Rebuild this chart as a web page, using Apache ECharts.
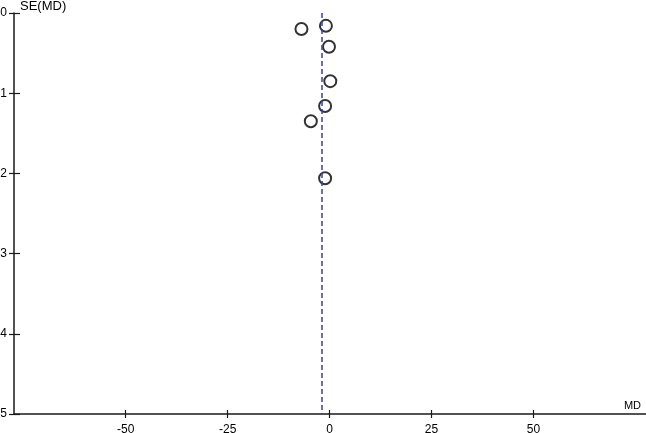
<!DOCTYPE html>
<html>
<head>
<meta charset="utf-8">
<script src="https://cdn.jsdelivr.net/npm/echarts@6/dist/echarts.min.js"></script>
<style>
  html, body { margin: 0; padding: 0; background: #fff; }
  #chart { width: 646px; height: 433px; }
</style>
</head>
<body>
<div id="chart"></div>
<script>
// study estimates: mean difference and its standard error
const md = [-6.9, -0.9, -0.15, 0.17, -1.1, -4.6, -1.1];
const se = [0.20, 0.16, 0.42, 0.85, 1.16, 1.35, 2.06];
const pooledMd = -2;
const xTicks = [-50, -25, 0, 25, 50];
const xRange = [-77.4, 77.6];
const yRange = [0, 5];

(function () {
  const font = 'Liberation Sans, Arial, sans-serif';
  const ink = '#1a1a1a';
  const gridBox = { left: 14, right: 0, top: 13, bottom: 19 };
  const plotW = 646 - gridBox.left - gridBox.right;
  const plotH = 433 - gridBox.top - gridBox.bottom;
  const chart = echarts.init(document.getElementById('chart'), null, { renderer: 'canvas' });

  const nameStyle = (size, extra) => Object.assign({ color: '#000', fontFamily: font, fontSize: size }, extra);

  // main axes carry line, labels and the outer half of each tick;
  // twin axes are pushed onto the same line and draw the inner half
  const xMain = {
    type: 'value',
    position: 'bottom',
    min: xRange[0],
    max: xRange[1],
    splitLine: { show: false },
    axisLine: { onZero: false, lineStyle: { color: ink, width: 1.5 } },
    axisTick: { length: 4, customValues: xTicks, lineStyle: { color: ink, width: 1.2 } },
    axisLabel: { customValues: xTicks, margin: 10, color: '#000', fontFamily: font, fontSize: 12 },
    name: 'MD',
    nameLocation: 'end',
    nameGap: -5,
    nameTextStyle: nameStyle(11, { align: 'right', verticalAlign: 'bottom', padding: [0, 0, 3, 0] }),
  };
  const xTwin = {
    type: 'value',
    position: 'top',
    offset: -plotH,
    min: xRange[0],
    max: xRange[1],
    splitLine: { show: false },
    axisLine: { show: false, onZero: false },
    axisTick: { length: 4, customValues: xTicks, lineStyle: { color: ink, width: 1.2 } },
    axisLabel: { show: false },
  };
  const yMain = {
    type: 'value',
    position: 'left',
    inverse: true,
    min: yRange[0],
    max: yRange[1],
    interval: 1,
    splitLine: { show: false },
    axisLine: { onZero: false, lineStyle: { color: ink, width: 1.5 } },
    axisTick: { length: 5, lineStyle: { color: ink, width: 1.2 } },
    axisLabel: { margin: 7, color: '#000', fontFamily: font, fontSize: 12 },
    name: 'SE(MD)',
    nameLocation: 'start',
    nameGap: 7,
    nameTextStyle: nameStyle(13, { align: 'left', verticalAlign: 'middle', padding: [0, 0, 0, 6] }),
  };
  const yTwin = {
    type: 'value',
    position: 'right',
    offset: -plotW,
    inverse: true,
    min: yRange[0],
    max: yRange[1],
    interval: 1,
    splitLine: { show: false },
    axisLine: { show: false, onZero: false },
    axisTick: { length: 6, lineStyle: { color: ink, width: 1.2 } },
    axisLabel: { show: false },
  };

  const option = {
    animation: false,
    backgroundColor: '#fff',
    grid: Object.assign({ containLabel: false, outerBoundsMode: 'none' }, gridBox),
    xAxis: [xMain, xTwin],
    yAxis: [yMain, yTwin],
    series: [
      {
        type: 'scatter',
        xAxisIndex: 0,
        yAxisIndex: 0,
        symbol: 'circle',
        symbolSize: 12,
        itemStyle: { color: 'rgba(255,255,255,0)', borderColor: '#000', borderWidth: 2 },
        data: md.map((v, i) => [v, se[i]]),
        markLine: {
          silent: true,
          symbol: ['none', 'none'],
          label: { show: false },
          lineStyle: { color: '#3a3acc', type: [5, 3], width: 1.5 },
          data: [{ xAxis: pooledMd }],
        },
        z: 3,
      },
    ],
  };

  chart.setOption(option);
})();
</script>
</body>
</html>
